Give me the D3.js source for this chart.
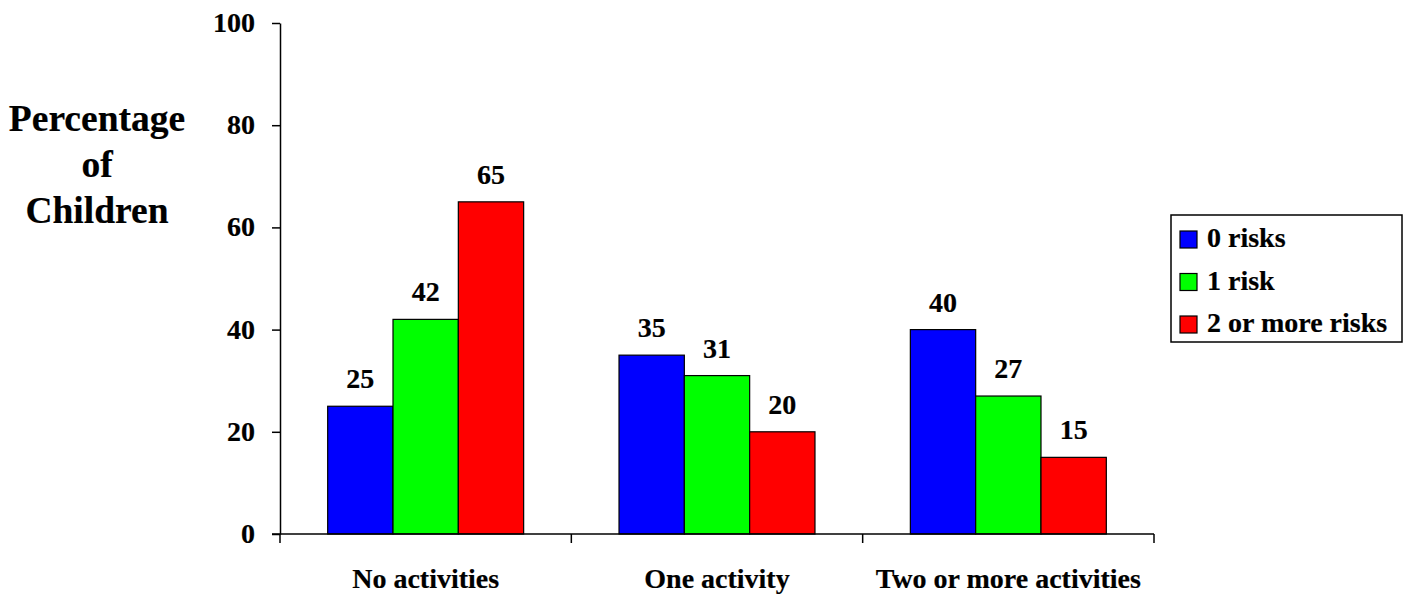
<!DOCTYPE html>
<html>
<head>
<meta charset="utf-8">
<script src="https://cdn.jsdelivr.net/npm/d3@7"></script>
<style>
  html, body { margin: 0; padding: 0; background: #fff; }
  svg text { font-family: "Liberation Serif", "Times New Roman", serif; font-weight: bold; fill: #000; stroke: #000; stroke-width: 0.2px; }
</style>
</head>
<body>
<svg id="chart" width="1409" height="595"></svg>
<script>
// Activity groups along the x axis
const categories = ["No activities", "One activity", "Two or more activities"];
// Risk levels (series) and their fills
const seriesNames = ["0 risks", "1 risk", "2 or more risks"];
const seriesColors = ["#0000ff", "#00ff00", "#ff0000"];
// Percentage of children, one array per risk level
const zeroRisks = [25, 35, 40];
const oneRisk = [42, 31, 27];
const twoPlusRisks = [65, 20, 15];
const yTicks = [0, 20, 40, 60, 80, 100];
const yTitleLines = ["Percentage", "of", "Children"];

const seriesValues = [zeroRisks, oneRisk, twoPlusRisks];

const svg = d3.select("#chart");
const plotLeft = 280, plotRight = 1154, plotTop = 23, plotBottom = 534;

const x = d3.scaleBand().domain(categories).range([plotLeft, plotRight]).paddingInner(0).paddingOuter(0);
const xs = d3.scaleBand().domain(seriesNames).range([0, x.bandwidth()]).paddingInner(0).paddingOuter(0.73);
const y = d3.scaleLinear().domain([0, 100]).range([plotBottom, plotTop]);

function label(g, str, px, py, size, anchor) {
  return g.append("text")
    .attr("x", px)
    .attr("y", py)
    .attr("text-anchor", anchor || "middle")
    .style("font-size", size + "px")
    .text(str);
}

// Bars with value labels
const groups = svg.append("g").selectAll("g")
  .data(categories)
  .join("g")
  .attr("transform", d => `translate(${x(d)},0)`);

groups.each(function(cat, ci) {
  const g = d3.select(this);
  seriesNames.forEach((s, si) => {
    const v = seriesValues[si][ci];
    g.append("rect")
      .attr("x", xs(s))
      .attr("y", y(v))
      .attr("width", xs.bandwidth())
      .attr("height", y(0) - y(v))
      .attr("fill", seriesColors[si])
      .attr("stroke", "#000")
      .attr("stroke-width", 1.2);
    label(g, String(v), xs(s) + xs.bandwidth() / 2, y(v) - 18, 28);
  });
});

// Y axis
const yAxis = d3.axisLeft(y).tickValues(yTicks).tickSize(8).tickSizeOuter(0).tickFormat("");
const yg = svg.append("g").attr("transform", `translate(${plotLeft},0)`).call(yAxis);
yg.selectAll("path, line").attr("stroke", "#000").attr("stroke-width", 1.5);
yTicks.forEach(t => label(svg, String(t), 255, y(t) + 9, 28, "end"));

// X axis: ticks on group boundaries
const boundaries = categories.map(c => x(c)).concat([plotRight]);
const xLine = svg.append("g");
xLine.append("line").attr("x1", plotLeft - 8).attr("x2", plotRight).attr("y1", plotBottom).attr("y2", plotBottom)
  .attr("stroke", "#000").attr("stroke-width", 1.5);
xLine.selectAll("line.tick").data(boundaries).join("line").attr("class", "tick")
  .attr("x1", d => d).attr("x2", d => d).attr("y1", plotBottom).attr("y2", plotBottom + 9)
  .attr("stroke", "#000").attr("stroke-width", 1.5);
categories.forEach(c => label(svg, c, x(c) + x.bandwidth() / 2, 588, 28));

// Y title
yTitleLines.forEach((t, i) => label(svg, t, 97, 131 + i * 46, 37.5));

// Legend
const lg = svg.append("g");
lg.append("rect").attr("x", 1171).attr("y", 215).attr("width", 231).attr("height", 127)
  .attr("fill", "#fff").attr("stroke", "#000").attr("stroke-width", 1.5);
seriesNames.forEach((s, i) => {
  const by = 247 + i * 42.5;
  lg.append("rect").attr("x", 1180).attr("y", by - 16).attr("width", 17).attr("height", 17)
    .attr("fill", seriesColors[i]).attr("stroke", "#000").attr("stroke-width", 1.2);
  label(lg, s, 1207, by, 28, "start");
});
</script>
</body>
</html>
